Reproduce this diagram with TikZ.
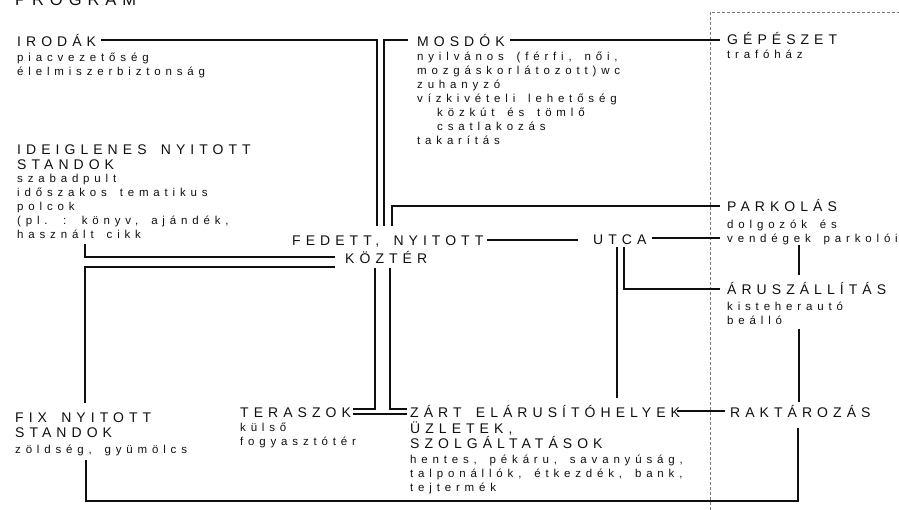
\documentclass[tikz,border=0pt]{standalone}
\usepackage{fontspec}
\setmainfont{Liberation Sans}
\newfontfamily\capsfam{Liberation Sans}[LetterSpace=36, WordSpace=1.6]
\newfontfamily\bodyfam{Liberation Sans}[LetterSpace=42, WordSpace=1.6]
\definecolor{ink}{RGB}{15,15,15}
\definecolor{zonegray}{RGB}{120,120,120}

\begin{document}
\begin{tikzpicture}[x=1pt, y=-1pt,
    hd/.style={inner sep=0pt, anchor=base west, text=ink, text height=12pt, text depth=0pt,
               font=\capsfam\fontsize{14}{15.5}\selectfont},
    hdm/.style={inner sep=0pt, anchor=base west, text=ink, align=left,
               font=\capsfam\fontsize{14}{15.5}\selectfont},
    bd/.style={inner sep=0pt, anchor=base west, text=ink, align=left,
               font=\bodyfam\fontsize{11.5}{14}\selectfont},
    wire/.style={draw=ink, line width=2pt},
    zoneline/.style={draw=zonegray, line width=0.7pt, dash pattern=on 3pt off 2pt}]
  \useasboundingbox (0,0) rectangle (899,510);

  \node[hd, font=\capsfam\fontsize{16.5}{18}\selectfont] (title) at (15,6) {PROGRAM};

  % multi-line nodes sit on the baseline of their last line
  % ---------- top row -----------------------------------------------------
  \node[hd] (irodak) at (17,46.5) {IRODÁK};
  \node[bd] (irodakT) at (17,75.5) {piacvezetőség\\élelmiszerbiztonság};
  \node[hd] (mosdok) at (417,46.5) {MOSDÓK};
  \node[bd] (mosdokT) at (417,145) {nyilvános (férfi, női,\\mozgáskorlátozott)wc\\zuhanyzó\\vízkivételi lehetőség\\\hspace*{20pt}közkút és tömlő\\\hspace*{20pt}csatlakozás\\takarítás};
  \node[hd] (gepeszet) at (727,45) {GÉPÉSZET};
  \node[bd] (gepeszetT) at (727,58.5) {trafóház};

  % ---------- left column -------------------------------------------------
  \node[hdm] (ideig) at (17,170) {IDEIGLENES NYITOTT\\STANDOK};
  \node[bd] (ideigT) at (17,239) {szabadpult\\időszakos tematikus\\polcok\\(pl. : könyv, ajándék,\\használt cikk};
  \node[hdm] (fix) at (15,437.5) {FIX NYITOTT\\STANDOK};
  \node[bd] (fixT) at (15,453) {zöldség, gyümölcs};

  % ---------- centre ------------------------------------------------------
  \node[hd] (fedett) at (292,246) {FEDETT, NYITOTT};
  \node[hd] (koztar) at (345,264) {KÖZTÉR};
  \node[hd] (utca) at (593,244.5) {UTCA};
  \node[hd] (teraszok) at (240,417) {TERASZOK};
  \node[bd] (teraszokT) at (240,445.3) {külső\\fogyasztótér};
  \node[hd] (zart) at (410,417) {ZÁRT ELÁRUSÍTÓHELYEK};
  \node[hdm] (zartH) at (410,448.5) {ÜZLETEK,\\SZOLGÁLTATÁSOK};
  \node[bd] (zartT) at (410,491) {hentes, pékáru, savanyúság,\\talponállók, étkezdék, bank,\\tejtermék};

  % ---------- right column ------------------------------------------------
  \node[hd] (parkolas) at (727,212) {PARKOLÁS};
  \node[bd] (parkolasT) at (727,242.3) {dolgozók és\\vendégek parkolói};
  \node[hd] (aruszall) at (727,295) {ÁRUSZÁLLÍTÁS};
  \node[bd] (aruszallT) at (727,324.3) {kisteherautó\\beálló};
  \node[hd] (raktar) at (730,417) {RAKTÁROZÁS};

  % ---------- site boundary -----------------------------------------------
  \draw[zoneline] (710,510) -- (710,12) -- (899,12);

  % ---------- links into the square ---------------------------------------
  \draw[wire] (irodak.east) ++(5,0) -| ([xshift=85pt,yshift=8pt]fedett.north west);
  \draw[wire] (mosdok.west) ++(-9,0) -| ([xshift=92pt,yshift=8pt]fedett.north west);
  \draw[wire] (parkolas.west) ++(-7,0) -| ([xshift=100pt,yshift=8pt]fedett.north west);
  \draw[wire] (mosdok.east) ++(5,0) -- ([xshift=-7pt]gepeszet.west |- mosdok.east);
  \draw[wire] (fedett.east) ++(3,0) -- ([xshift=-15pt]utca.west |- fedett.east);
  \draw[wire] ([xshift=-10pt,yshift=1pt]koztar.west) -| ([xshift=68pt,yshift=-5pt]ideigT.south west);
  \draw[wire] ([xshift=-10pt,yshift=-9pt]koztar.west) -| ([xshift=70pt,yshift=9pt]fix.north west);
  \draw[wire] ([xshift=30pt,yshift=-4pt]koztar.south west) |- ([xshift=2pt,yshift=2.5pt]teraszok.east);
  \draw[wire] ([xshift=45pt,yshift=-4pt]koztar.south west) |- ([xshift=-3pt,yshift=2.5pt]zart.west);
  \draw[wire] ([xshift=2pt,yshift=-2.5pt]teraszok.east) -- ([xshift=-3pt,yshift=-2.5pt]zart.west);

  % ---------- street and service side -------------------------------------
  \draw[wire] (utca.east) ++(5,0) -- ([xshift=-7pt]parkolas.west |- utca.east);
  \draw[wire] ([xshift=24pt,yshift=-2pt]utca.south west) coordinate (drop)
    -- ([yshift=7pt]zart.north -| drop);
  \draw[wire] ([xshift=31pt,yshift=-2pt]utca.south west) |- ([xshift=-7pt]aruszall.west);
  \draw[wire] ([xshift=72pt]parkolasT.south west) -- ([xshift=72pt,yshift=8pt]aruszall.north west);
  \draw[wire] ([xshift=72pt,yshift=-4pt]aruszallT.south west) -- ([xshift=69pt,yshift=3pt]raktar.north west);
  \draw[wire] (zart.east) ++(-3,0) -- ([xshift=-5pt]raktar.west |- zart.east);
  \draw[wire] ([xshift=71pt,yshift=-4pt]fixT.south west) -- ++(0,41)
    -| ([xshift=68pt,yshift=-11pt]raktar.south west);
\end{tikzpicture}
\end{document}
